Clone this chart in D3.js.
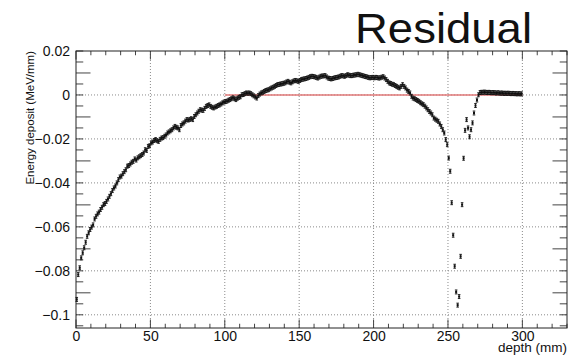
<!DOCTYPE html>
<html>
<head>
<meta charset="utf-8">
<script src="https://cdn.jsdelivr.net/npm/d3@7"></script>
<style>
  body { margin: 0; background: #fff; }
  text { font-family: "Liberation Sans", Arial, Helvetica, sans-serif; }
</style>
</head>
<body>
<div id="wrapper"></div>
<script>

// residual per 1 mm depth bin (MeV/mm), bins 0..299
const residual = [
  -0.0930, -0.0817, -0.0786, -0.0741, -0.0718, -0.0695, -0.0670, -0.0643, -0.0627, -0.0612,
  -0.0601, -0.0591, -0.0564, -0.0552, -0.0541, -0.0533, -0.0521, -0.0511, -0.0499, -0.0494,
  -0.0484, -0.0473, -0.0461, -0.0449, -0.0435, -0.0423, -0.0414, -0.0400, -0.0385, -0.0373,
  -0.0369, -0.0358, -0.0349, -0.0340, -0.0324, -0.0321, -0.0314, -0.0306, -0.0302, -0.0291,
  -0.0296, -0.0286, -0.0281, -0.0276, -0.0271, -0.0264, -0.0249, -0.0252, -0.0234, -0.0231,
  -0.0218, -0.0214, -0.0207, -0.0203, -0.0208, -0.0211, -0.0202, -0.0196, -0.0194, -0.0188,
  -0.0182, -0.0173, -0.0168, -0.0163, -0.0158, -0.0150, -0.0143, -0.0147, -0.0150, -0.0158,
  -0.0139, -0.0132, -0.0127, -0.0119, -0.0112, -0.0114, -0.0111, -0.0108, -0.0112, -0.0098,
  -0.0090, -0.0082, -0.0074, -0.0067, -0.0069, -0.0070, -0.0061, -0.0052, -0.0048, -0.0045,
  -0.0052, -0.0056, -0.0059, -0.0055, -0.0052, -0.0048, -0.0045, -0.0041, -0.0036, -0.0032,
  -0.0030, -0.0028, -0.0024, -0.0021, -0.0017, -0.0013, -0.0017, -0.0021, -0.0015, -0.0011,
  -0.0008,  0.0001,  0.0002,  0.0006,  0.0009,  0.0008,  0.0009,  0.0006,  0.0001, -0.0004,
  -0.0009, -0.0014, -0.0003,  0.0004,  0.0009,  0.0012,  0.0016,  0.0020,  0.0022,  0.0024,
   0.0028,  0.0032,  0.0035,  0.0039,  0.0043,  0.0047,  0.0048,  0.0050,  0.0051,  0.0053,
   0.0055,  0.0059,  0.0062,  0.0058,  0.0055,  0.0060,  0.0064,  0.0066,  0.0064,  0.0062,
   0.0066,  0.0070,  0.0072,  0.0073,  0.0075,  0.0077,  0.0080,  0.0083,  0.0085,  0.0084,
   0.0082,  0.0080,  0.0077,  0.0081,  0.0085,  0.0086,  0.0087,  0.0088,  0.0082,  0.0077,
   0.0075,  0.0073,  0.0075,  0.0077,  0.0079,  0.0080,  0.0082,  0.0085,  0.0088,  0.0087,
   0.0085,  0.0088,  0.0092,  0.0090,  0.0088,  0.0088,  0.0090,  0.0091,  0.0092,  0.0094,
   0.0092,  0.0090,  0.0088,  0.0086,  0.0084,  0.0082,  0.0080,  0.0078,  0.0079,  0.0080,
   0.0078,  0.0080,  0.0079,  0.0077,  0.0078,  0.0081,  0.0083,  0.0077,  0.0070,  0.0062,
   0.0055,  0.0052,  0.0049,  0.0047,  0.0043,  0.0039,  0.0035,  0.0032,  0.0039,  0.0047,
   0.0039,  0.0032,  0.0022,  0.0016,  0.0009, -0.0006, -0.0014, -0.0017, -0.0021, -0.0025,
  -0.0029, -0.0035, -0.0040, -0.0044, -0.0051, -0.0059, -0.0067, -0.0075, -0.0082, -0.0090,
  -0.0105, -0.0110, -0.0115, -0.0120, -0.0132, -0.0143, -0.0158, -0.0173, -0.0203, -0.0226,
  -0.0287, -0.0347, -0.0490, -0.0638, -0.0779, -0.0896, -0.0956, -0.0917, -0.0734, -0.0499,
  -0.0288, -0.0161, -0.0112, -0.0150, -0.0190, -0.0158, -0.0127, -0.0082, -0.0048, -0.0023,
   0.0001,  0.0011,  0.0012,  0.0012,  0.0013,  0.0012,  0.0011,  0.0012,  0.0011,  0.0010,
   0.0011,  0.0010,  0.0009,  0.0010,  0.0009,  0.0008,  0.0009,  0.0007,  0.0008,  0.0007,
   0.0008,  0.0007,  0.0006,  0.0007,  0.0006,  0.0006,  0.0005,  0.0006,  0.0005,  0.0005,
]
const binError = 0.0009

// fit line (red) range and level
const fitRange = [100, 300]
const fitLevel = 0

// axes
const xDomain = [0, 330]
const yDomain = [-0.106, 0.02]
const xMajorTicks = [0, 50, 100, 150, 200, 250, 300]
const xTickLabels = ["0", "50", "100", "150", "200", "250", "300"]
const yMajorTicks = [0.02, 0, -0.02, -0.04, -0.06, -0.08, -0.1]
const yTickLabels = ["0.02", "0", "\u22120.02", "\u22120.04", "\u22120.06", "\u22120.08", "\u22120.1"]

const title = "Residual"
const xTitle = "depth (mm)"
const yTitle = "Energy deposit (MeV/mm)"


function drawChart() {
  const dataset = residual.map((y, i) => ({ x: i + 0.5, y }))
  const xAccessor = d => d.x
  const yAccessor = d => d.y

  let dimensions = {
    width: 577,
    height: 355,
    margin: { top: 51, right: 10, bottom: 27, left: 76 },
  }
  dimensions.boundedWidth = dimensions.width
    - dimensions.margin.left
    - dimensions.margin.right
  dimensions.boundedHeight = dimensions.height
    - dimensions.margin.top
    - dimensions.margin.bottom

  const wrapper = d3.select("#wrapper")
    .append("svg")
      .attr("width", dimensions.width)
      .attr("height", dimensions.height)

  const bounds = wrapper.append("g")
      .attr("transform", `translate(${dimensions.margin.left}, ${dimensions.margin.top})`)

  const xScale = d3.scaleLinear()
    .domain(xDomain)
    .range([0, dimensions.boundedWidth])

  const yScale = d3.scaleLinear()
    .domain(yDomain)
    .range([dimensions.boundedHeight, 0])

  const W = dimensions.boundedWidth
  const H = dimensions.boundedHeight

  // dotted grid
  const grid = bounds.append("g")
      .attr("stroke", "#8a8a8a")
      .attr("stroke-width", 1)
      .attr("stroke-dasharray", "1,2")
  grid.selectAll(".vgrid")
      .data(xMajorTicks.filter(t => t > xDomain[0]))
    .join("line")
      .attr("x1", d => xScale(d)).attr("x2", d => xScale(d))
      .attr("y1", 0).attr("y2", H)
  grid.selectAll(".hgrid")
      .data(yMajorTicks.filter(t => t < yDomain[1]))
    .join("line")
      .attr("x1", 0).attr("x2", W)
      .attr("y1", d => yScale(d)).attr("y2", d => yScale(d))

  // axes (ROOT style: ticks inside on all four sides)
  const xMinor = d3.range(0, 331, 10)
  const yMinor = d3.range(-0.105, 0.0201, 0.005)
  const tickLenX = 8.5, tickLenY = 14.5

  const xBottom = d3.axisBottom(xScale).tickValues(xMajorTicks)
    .tickSize(0)
    .tickFormat((d, i) => xTickLabels[i])
  bounds.append("g")
      .attr("transform", `translate(0, ${H})`)
      .call(xBottom)
      .call(g => g.select(".domain").remove())
      .call(g => g.selectAll("text")
        .attr("y", 3).attr("dy", "0.71em")
        .attr("font-size", 14).attr("font-family", null).attr("fill", "#111"))

  const minorLines = bounds.append("g").attr("stroke", "#444")
  minorLines.selectAll(".xm")
      .data(xMinor)
    .join("line")
      .attr("x1", d => xScale(d)).attr("x2", d => xScale(d))
      .attr("y1", H).attr("y2", d => H - (d % 50 === 0 ? tickLenX : tickLenX / 2))
  minorLines.selectAll(".xt")
      .data(xMinor)
    .join("line")
      .attr("x1", d => xScale(d)).attr("x2", d => xScale(d))
      .attr("y1", 0).attr("y2", d => (d % 50 === 0 ? tickLenX : tickLenX / 2))
  minorLines.selectAll(".yl")
      .data(yMinor)
    .join("line")
      .attr("y1", d => yScale(d)).attr("y2", d => yScale(d))
      .attr("x1", 0).attr("x2", (d, i) => ((i + 1) % 4 === 0 ? tickLenY : tickLenY / 2))
  minorLines.selectAll(".yr")
      .data(yMinor)
    .join("line")
      .attr("y1", d => yScale(d)).attr("y2", d => yScale(d))
      .attr("x1", W).attr("x2", (d, i) => W - ((i + 1) % 4 === 0 ? tickLenY : tickLenY / 2))

  const yLeft = d3.axisLeft(yScale).tickValues(yMajorTicks)
    .tickSizeInner(0).tickSizeOuter(0)
    .tickFormat((d, i) => yTickLabels[i]).tickPadding(6)
  bounds.append("g")
      .call(yLeft)
      .call(g => g.select(".domain").remove())
      .call(g => g.selectAll("text")
        .attr("font-size", 14).attr("font-family", null).attr("fill", "#111"))

  // frame
  bounds.append("rect")
      .attr("width", W).attr("height", H)
      .attr("fill", "none").attr("stroke", "#222").attr("stroke-width", 1)

  // fit line
  bounds.append("line")
      .attr("x1", xScale(fitRange[0])).attr("x2", xScale(fitRange[1]))
      .attr("y1", yScale(fitLevel)).attr("y2", yScale(fitLevel))
      .attr("stroke", "#e07878").attr("stroke-width", 1.6)

  // points: small marker with vertical error bar and caps
  const errPx = d => yScale(yAccessor(d) - binError) - yScale(yAccessor(d))
  const pts = bounds.append("g").attr("stroke", "#111").attr("stroke-width", 0.9)
  const pt = pts.selectAll("g")
      .data(dataset)
    .join("g")
      .attr("transform", d => `translate(${xScale(xAccessor(d))}, ${yScale(yAccessor(d))})`)
  pt.append("rect")
      .attr("x", -1).attr("y", -1)
      .attr("width", 2).attr("height", 2)
      .attr("fill", "#111").attr("stroke", "none")
  pt.append("line")
      .attr("y1", d => errPx(d))
      .attr("y2", d => -errPx(d))
  pt.append("line")
      .attr("x1", -1.3).attr("x2", 1.3)
      .attr("y1", d => errPx(d)).attr("y2", d => errPx(d))
  pt.append("line")
      .attr("x1", -1.3).attr("x2", 1.3)
      .attr("y1", d => -errPx(d)).attr("y2", d => -errPx(d))

  // titles
  wrapper.append("text")
      .attr("x", 355).attr("y", 43)
      .attr("font-size", 43)
      .attr("textLength", 177)
      .attr("lengthAdjust", "spacingAndGlyphs")
      .attr("fill", "#111")
      .text(title)

  wrapper.append("text")
      .attr("x", dimensions.width - dimensions.margin.right)
      .attr("y", 352)
      .attr("text-anchor", "end")
      .attr("font-size", 13.5)
      .attr("fill", "#111")
      .text(xTitle)

  wrapper.append("text")
      .attr("transform", `translate(34, ${dimensions.margin.top}) rotate(-90)`)
      .attr("text-anchor", "end")
      .attr("font-size", 11.5)
      .attr("fill", "#111")
      .text(yTitle)
}

drawChart()
</script>
</body>
</html>
